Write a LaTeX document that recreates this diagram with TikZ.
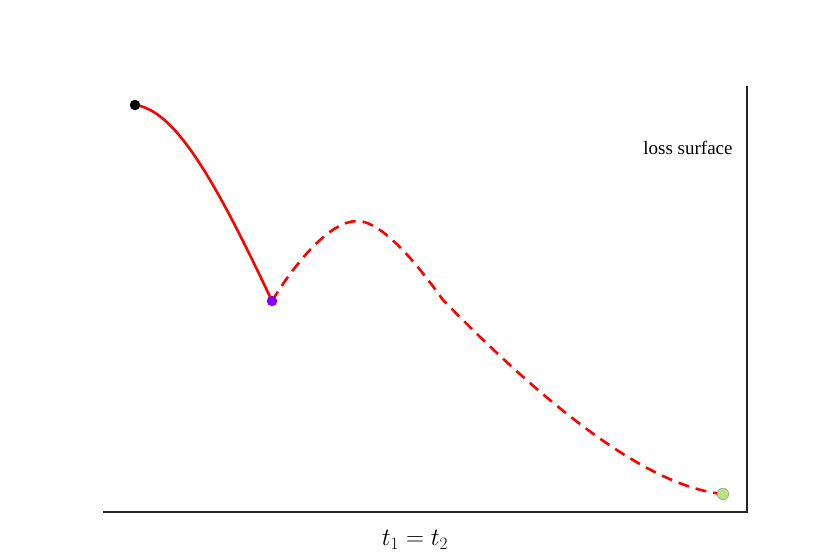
\documentclass[tikz,border=0pt]{standalone}
\usepackage{fontspec}
\setmainfont{Liberation Serif}
\usetikzlibrary{backgrounds}
\begin{document}
\begin{tikzpicture}[x=1pt,y=-1pt,
  dot/.style={circle,inner sep=0pt,minimum size=10.5pt},
  axis/.style={line width=1.6pt,draw=black!85},
  path/.style={red,line width=2.6pt},
  dpath/.style={red,line width=2.6pt,dash pattern=on 11pt off 7pt}]
\useasboundingbox (0,0) rectangle (830,554);
\coordinate (o) at (747,512);
\coordinate (top) at (747,86);
\coordinate (left) at (103,512);
\draw[axis] (top) -- (o) -- (left);
\coordinate (P) at (357,221);
\coordinate (K) at (443,300);
\node[dot,fill=black] (A) at (135,105) {};
\node[dot,fill={rgb,255:red,132;green,0;blue,255}] (B) at (272,301) {};
\node[dot,minimum size=11.5pt,fill={rgb,255:red,184;green,228;blue,132},draw=black!40,line width=0.6pt] (C) at (723,494) {};
\begin{scope}[on background layer]
\draw[path] (A.center) .. controls (175,110) and (215,180) .. (B.center);
\draw[dpath] (B.center) .. controls (295,263) and (330,221) .. (P)
  .. controls (385,221) and (425,275) .. (K)
  .. controls (530,389) and (640,486) .. (C.center);
\end{scope}
\node[font=\fontsize{19}{22}\selectfont] (ls) at (688,148) {loss surface};
\node[font=\fontsize{24}{28}\selectfont] (xl) at (415,540) {$t_1=t_2$};
\end{tikzpicture}
\end{document}
